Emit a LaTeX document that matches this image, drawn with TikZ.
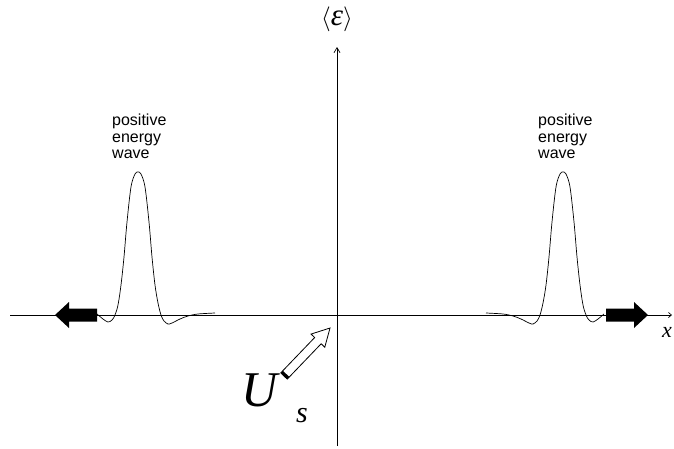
\documentclass[tikz,border=0pt]{standalone}
\usepackage{fontspec}
\setmainfont{Liberation Serif}
\newfontfamily\labelsans{Liberation Sans}
\usetikzlibrary{arrows.meta}
\begin{document}
\begin{tikzpicture}[x=1pt,y=-1pt,
  axis/.style={line width=0.7pt},
  wavetext/.style={font=\labelsans\fontsize{16}{16.5}\selectfont, align=left, inner sep=0pt, anchor=north west},
  wave/.pic={\draw[line width=0.7pt] plot[smooth, tension=0.55] coordinates {
      (-41,-1) (-35,4) (-30,7) (-26,5) (-23,0) (-20,-10) (-17,-30) (-14,-58) (-11,-93)
      (-7,-128) (-3,-141) (0,-143) (3,-141) (7,-128) (11,-93) (14,-58) (17,-30) (20,-12)
      (23,0) (26,6) (30,9) (34,8) (42,4) (50,1) (60,-1) (77,-2)};},
  fatarrow/.pic={\fill (0,0) -- (-14,-13) -- (-14,-6.5) -- (-42,-6.5) -- (-42,6.5) -- (-14,6.5) -- (-14,13) -- cycle;},
  hollowarrow/.pic={
    \draw[line width=0.8pt, fill=white] (0,-4.5) -- (49,-4.5) -- (49,-9.5) -- (66.5,0) -- (49,9.5) -- (49,4.5) -- (0,4.5) -- cycle;
    \draw[line width=3pt] (1.5,-4.5) -- (1.5,4.5);}
]
\useasboundingbox (0,0) rectangle (674,448);
% axes
\coordinate (hl) at (10,315);
\coordinate (hr) at (672,315);
\coordinate (vb) at (337,446);
\coordinate (vt) at (337,47);
\draw[axis, -{Straight Barb[length=3pt,width=5pt]}] (hl) -- (hr);
\draw[axis, -{Straight Barb[length=5pt,width=6pt]}] (vb) -- (vt);
\node (eps) at (337,19) {\fontsize{31}{33}\selectfont$\langle$\textit{ε}$\rangle$};
\node (xl) at (667,332) {\fontsize{22}{24}\selectfont\itshape x};
% waves
\pic (lw) at (138,315) {wave};
\pic[xscale=-1] (rw) at (563,315) {wave};
\pic (la) [xscale=-1] at (55,315) {fatarrow};
\pic (ra) at (648,315) {fatarrow};
\node[wavetext] (lt) at (112,114) {positive\\energy\\wave};
\node[wavetext] (rt) at (538,114) {positive\\energy\\wave};
% source
\pic[rotate=46.2] (ua) at (284,376) {hollowarrow};
\node[inner sep=0pt, anchor=base east] (U) at (278,406) {\fontsize{50}{52}\selectfont\itshape U};
\node[inner sep=0pt, anchor=base west] (s) at (296,422) {\fontsize{30}{32}\selectfont\itshape s};
\end{tikzpicture}
\end{document}
